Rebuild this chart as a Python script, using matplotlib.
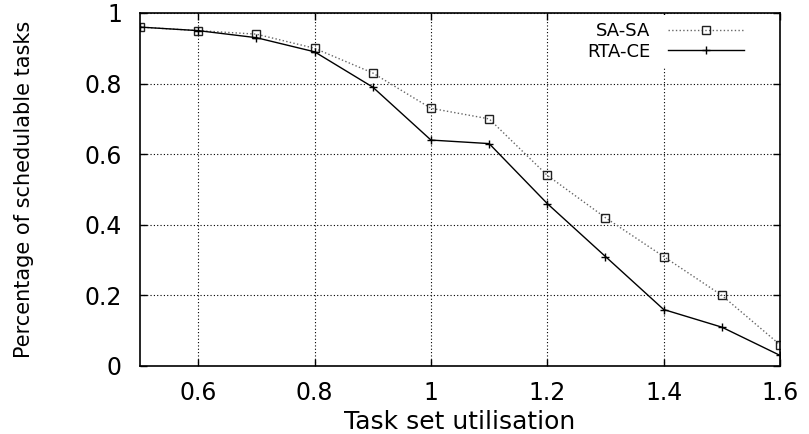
import matplotlib
matplotlib.use("Agg")
import matplotlib.pyplot as plt

# task set utilisation
utilisation = [0.5, 0.6, 0.7, 0.8, 0.9, 1.0, 1.1, 1.2, 1.3, 1.4, 1.5, 1.6]
# percentage of schedulable tasks per method
sa_sa = [0.96, 0.95, 0.94, 0.90, 0.83, 0.73, 0.70, 0.54, 0.42, 0.31, 0.20, 0.06]
rta_ce = [0.96, 0.95, 0.93, 0.89, 0.79, 0.64, 0.63, 0.46, 0.31, 0.16, 0.11, 0.03]

x_ticks = [0.6, 0.8, 1.0, 1.2, 1.4, 1.6]
x_labels = ["0.6", "0.8", "1", "1.2", "1.4", "1.6"]
y_ticks = [0, 0.2, 0.4, 0.6, 0.8, 1.0]
y_labels = ["0", "0.2", "0.4", "0.6", "0.8", "1"]

plt.rcParams['font.family'] = ['DejaVu Sans']

fig = plt.figure(figsize=(8.09, 4.34), dpi=100)
ax = fig.add_axes([0.1731, 0.1567, 0.7911, 0.8134])

ax.plot(utilisation, sa_sa, linestyle=':', color='#666666', linewidth=1.0,
        marker='s', markersize=5.8, markerfacecolor='none',
        markeredgecolor='#222222', markeredgewidth=1.0, label='SA-SA')
ax.plot(utilisation, rta_ce, linestyle='-', color='black', linewidth=1.0,
        marker='+', markersize=6, markeredgewidth=1.0, label='RTA-CE')

ax.set_xlim(0.5, 1.6)
ax.set_ylim(0, 1)
ax.set_xticks(x_ticks)
ax.set_xticklabels(x_labels)
ax.set_yticks(y_ticks)
ax.set_yticklabels(y_labels)
ax.tick_params(direction='in', length=5, width=1, top=True, right=True,
               labelsize=17)
ax.tick_params(axis='x', pad=11)
ax.tick_params(axis='y', pad=13)
ax.grid(True, linestyle=(0, (1, 2)), color='black', linewidth=0.8)
for spine in ax.spines.values():
    spine.set_linewidth(1.2)
    spine.set_zorder(6)

ax.set_xlabel('Task set utilisation', fontsize=18)
ax.xaxis.set_label_coords(0.5, -0.125)
ax.set_ylabel('Percentage of schedulable tasks', fontsize=15)
ax.yaxis.set_label_coords(-0.165, 0.5)

leg = ax.legend(loc='upper right', bbox_to_anchor=(0.955, 0.995),
                markerfirst=False, fontsize=13, handlelength=4.2,
                handletextpad=1.0, frameon=True, fancybox=False,
                borderaxespad=0, borderpad=0.4, labelspacing=0.15)
leg.get_frame().set_edgecolor('none')
leg.get_frame().set_facecolor('white')
leg.get_frame().set_alpha(1.0)

fig.savefig('out.png', dpi=100)
